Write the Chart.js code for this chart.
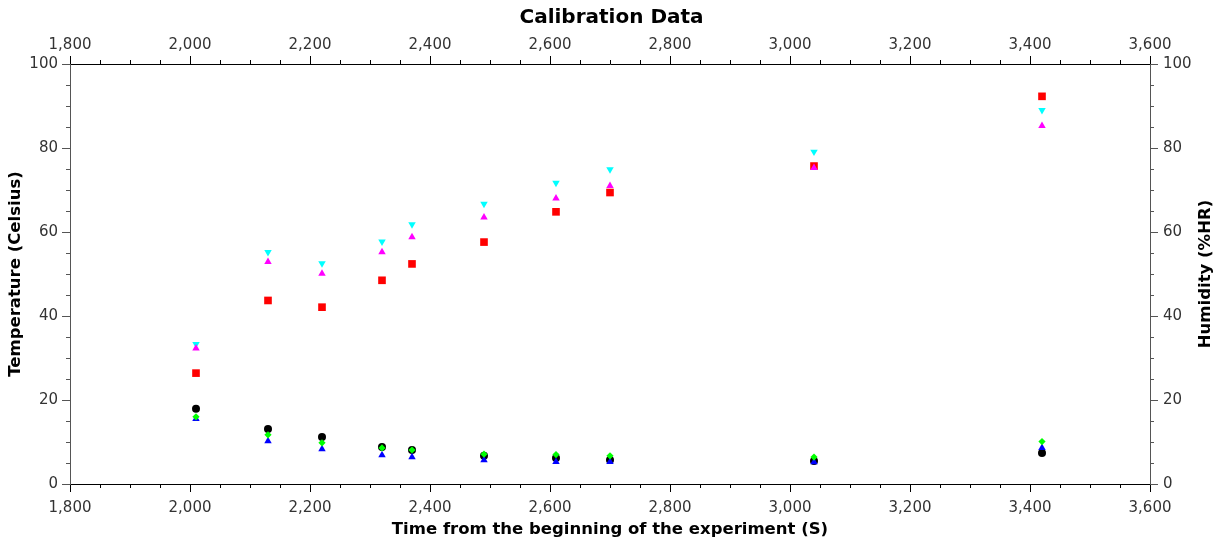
<!DOCTYPE html>
<html>
<head>
<meta charset="utf-8">
<title>Calibration Data</title>
<script src="https://cdn.jsdelivr.net/npm/chart.js@4.4.1/dist/chart.umd.min.js"></script>
<style>
  html, body { margin: 0; padding: 0; background: #ffffff; }
  #wrap { width: 1223px; height: 544px; }
</style>
</head>
<body>
<div id="wrap"><canvas id="calib-chart" width="1223" height="544"></canvas></div>
<script>
// Data
const times = [2010, 2130, 2220, 2320, 2370, 2490, 2610, 2700, 3040, 3420];

const humidity1 = [26.4, 43.7, 42.1, 48.5, 52.4, 57.6, 64.8, 69.4, 75.7, 92.3];   // red squares
const humidity2 = [32.3, 52.9, 50.1, 55.2, 58.8, 63.5, 68.0, 71.0, 75.3, 85.3];   // magenta
const humidity3 = [33.3, 55.2, 52.5, 57.7, 61.8, 66.7, 71.7, 74.9, 79.1, 89.0];   // cyan
const temp1 = [17.9, 13.1, 11.2, 8.8, 8.1, 6.7, 6.2, 5.7, 5.5, 7.4];              // black
const temp2 = [16.0, 11.7, 9.8, 8.6, 8.1, 7.1, 7.0, 6.7, 6.4, 10.1];              // green
const temp3 = [15.5, 10.2, 8.3, 6.9, 6.4, 5.7, 5.3, 5.3, 5.2, 8.6];               // blue

const xMin = 1800, xMax = 3600, xStep = 200, xMinorStep = 50;
const yMin = 0, yMax = 100, yStep = 20, yMinorStep = 5;

const FONT = "'DejaVu Sans', sans-serif";
const TITLE_SIZE = 16.5;
const rightTitle = 'Humidity (%HR)';

function toPoints(values) {
    return times.map((t, i) => ({ x: t, y: values[i] }));
}

function makeSet(label, values, color, style, radius, axis, rotation) {
    return {
        label: label,
        data: toPoints(values),
        yAxisID: axis,
        backgroundColor: color,
        borderColor: color,
        borderWidth: 0,
        pointStyle: style,
        pointRadius: radius,
        pointHoverRadius: radius,
        rotation: rotation || 0,
        showLine: false
    };
}

// Minor tick marks on every axis + right axis title written bottom-to-top
const extras = {
    id: 'extras',
    afterDraw(chart) {
        const ctx = chart.ctx;
        const area = chart.chartArea;
        const len = 4;
        ctx.save();
        ctx.lineWidth = 1;

        ['x', 'x2'].forEach(id => {
            const s = chart.scales[id];
            ctx.strokeStyle = '#000000';
            for (let v = xMin; v <= xMax; v += xMinorStep) {
                if (v % xStep === 0) continue;
                const px = Math.round(s.getPixelForValue(v)) + 0.5;
                ctx.beginPath();
                if (id === 'x') { ctx.moveTo(px, area.bottom); ctx.lineTo(px, area.bottom + len); }
                else { ctx.moveTo(px, area.top); ctx.lineTo(px, area.top - len); }
                ctx.stroke();
            }
        });

        ['y', 'y2'].forEach(id => {
            const s = chart.scales[id];
            ctx.strokeStyle = '#555555';
            for (let v = yMin; v <= yMax; v += yMinorStep) {
                if (v % yStep === 0) continue;
                const py = Math.round(s.getPixelForValue(v)) + 0.5;
                ctx.beginPath();
                if (id === 'y') { ctx.moveTo(area.left, py); ctx.lineTo(area.left - len, py); }
                else { ctx.moveTo(area.right, py); ctx.lineTo(area.right + len, py); }
                ctx.stroke();
            }
        });

        // right axis title
        ctx.translate(1206, (area.top + area.bottom) / 2);
        ctx.rotate(-Math.PI / 2);
        ctx.fillStyle = '#000000';
        ctx.font = 'bold ' + TITLE_SIZE + 'px ' + FONT;
        ctx.textAlign = 'center';
        ctx.textBaseline = 'middle';
        ctx.fillText(rightTitle, 0, 0);
        ctx.restore();
    }
};

function xScale(position, title, size, pad) {
    return {
        type: 'linear',
        position: position,
        min: xMin,
        max: xMax,
        afterFit: s => { s.height = size; },
        ticks: {
            stepSize: xStep,
            padding: pad,
            color: '#333333',
            font: { family: FONT, size: 15 },
            maxRotation: 0,
            callback: v => Number(v).toLocaleString('en-US')
        },
        grid: { drawOnChartArea: false, drawTicks: true, tickLength: 8, tickColor: '#000000' },
        border: { display: true, color: '#000000', width: 1 },
        title: title ? {
            display: true, text: title, color: '#000000',
            font: { family: FONT, size: TITLE_SIZE, weight: 'bold' },
            padding: { top: 0, bottom: 4 }
        } : { display: false }
    };
}

function yScale(position, title, size, pad, titlePad) {
    return {
        type: 'linear',
        position: position,
        min: yMin,
        max: yMax,
        afterFit: s => { s.width = size; },
        ticks: {
            stepSize: yStep,
            padding: pad,
            color: '#333333',
            font: { family: FONT, size: 15 }
        },
        grid: { drawOnChartArea: false, drawTicks: true, tickLength: 8, tickColor: '#555555' },
        border: { display: true, color: '#555555', width: 1 },
        title: title ? {
            display: true, text: title, color: '#000000',
            font: { family: FONT, size: TITLE_SIZE, weight: 'bold' },
            padding: { top: titlePad, bottom: 0 }
        } : { display: false }
    };
}

const ctx = document.getElementById('calib-chart').getContext('2d');
const calibChart = new Chart(ctx, {
    type: 'scatter',
    data: {
        datasets: [
            makeSet('Temperature 2', temp2, '#00ff00', 'rectRot', 3.6, 'y'),
            makeSet('Temperature 3', temp3, '#0000ff', 'triangle', 4.3, 'y'),
            makeSet('Temperature 1', temp1, '#000000', 'circle', 4, 'y'),
            makeSet('Humidity 2', humidity2, '#ff00ff', 'triangle', 4.3, 'y2'),
            makeSet('Humidity 3', humidity3, '#00ffff', 'triangle', 4.3, 'y2', 180),
            makeSet('Humidity 1', humidity1, '#ff0000', 'rect', 5.4, 'y2')
        ]
    },
    options: {
        responsive: false,
        animation: false,
        devicePixelRatio: 1,
        layout: { padding: 0 },
        plugins: {
            legend: { display: false },
            tooltip: { enabled: false },
            title: {
                display: true,
                text: 'Calibration Data',
                color: '#000000',
                font: { family: FONT, size: 20, weight: 'bold' },
                padding: { top: 6, bottom: 0 }
            }
        },
        scales: {
            x: xScale('bottom', 'Time from the beginning of the experiment (S)', 60, 7),
            x2: xScale('top', null, 34, 2),
            y: yScale('left', 'Temperature (Celsius)', 70, 4, 6),
            y2: yScale('right', null, 73, 5, 0)
        }
    },
    plugins: [extras]
});
</script>
</body>
</html>
